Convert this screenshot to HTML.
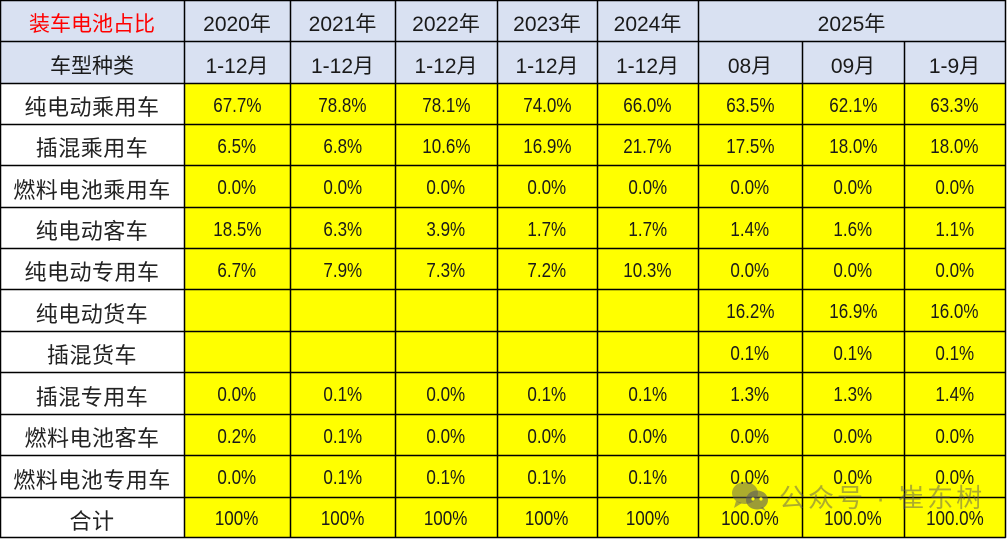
<!DOCTYPE html>
<html><head><meta charset="utf-8">
<style>
html,body{margin:0;padding:0;background:#fff;}
#wrap{position:relative;width:1007px;height:539px;overflow:hidden;background:#fff;}
.c{position:absolute;display:flex;align-items:center;justify-content:center;box-sizing:border-box;padding-top:5px;color:#1a1a1a;white-space:nowrap;}
.h{background:#d9e1f2;font-family:"Liberation Sans","Noto Sans CJK SC",sans-serif;font-size:21px;}
.lab{background:#fff;font-family:"Liberation Sans","Noto Sans CJK SC",sans-serif;font-size:22px;letter-spacing:0.5px;color:#222;}
.d{background:#ffff00;font-family:"Liberation Sans","Noto Sans CJK SC",sans-serif;font-size:20px;}
.d span{display:inline-block;transform:scaleX(0.85);}
.red{color:#ff0000;}
#wm{position:absolute;left:730px;top:480px;height:32px;display:flex;align-items:center;color:rgba(90,90,90,0.5);font-family:"Liberation Sans","Noto Sans CJK SC",sans-serif;font-size:26px;letter-spacing:3px;}
svg{position:absolute;left:0;top:0;}
</style></head><body>
<div id="wrap">
<div id="cells"></div>
<svg width="1007" height="539" id="grid"></svg>
<div id="wm">
<svg width="40" height="30" viewBox="0 0 40 30" style="position:relative;margin-right:9px;">
<ellipse cx="15" cy="12" rx="13" ry="11" fill="rgba(90,90,90,0.5)"/>
<path d="M6 20 L4 27 L12 22 Z" fill="rgba(90,90,90,0.5)"/>
<ellipse cx="27" cy="19" rx="11" ry="9.5" fill="rgba(90,90,90,0.6)"/>
<path d="M33 26 L36 30 L30 27 Z" fill="rgba(90,90,90,0.6)"/>
<circle cx="23" cy="18" r="1.6" fill="#ffff00"/>
<circle cx="31" cy="18" r="1.6" fill="#ffff00"/>
</svg>
<span>公众号 · 崔东树</span>
</div>
</div>
<script>
var xs=[0,184,290,395,497,597,698,802,904,1005];
var ys=[0,41,83,124,165,207,248,289,331,372,414,455,497,537];
var cells=document.getElementById('cells');
function cell(x0,x1,y0,y1,cls,txt,span){
  var d=document.createElement('div');
  d.className='c '+cls;
  d.style.left=x0+'px';d.style.top=y0+'px';d.style.width=(x1-x0)+'px';d.style.height=(y1-y0)+'px';
  if(span){var s=document.createElement('span');s.textContent=txt;d.appendChild(s);}else d.textContent=txt;
  cells.appendChild(d);
}
cell(xs[0],xs[1],ys[0],ys[1],'h red','装车电池占比');
var yrs=['2020年','2021年','2022年','2023年','2024年'];
for(var i=0;i<5;i++)cell(xs[i+1],xs[i+2],ys[0],ys[1],'h',yrs[i]);
cell(xs[6],xs[9],ys[0],ys[1],'h','2025年');
var h2=['车型种类','1-12月','1-12月','1-12月','1-12月','1-12月','08月','09月','1-9月'];
for(var i=0;i<9;i++)cell(xs[i],xs[i+1],ys[1],ys[2],'h',h2[i]);
var rows=[
['纯电动乘用车','67.7%','78.8%','78.1%','74.0%','66.0%','63.5%','62.1%','63.3%'],
['插混乘用车','6.5%','6.8%','10.6%','16.9%','21.7%','17.5%','18.0%','18.0%'],
['燃料电池乘用车','0.0%','0.0%','0.0%','0.0%','0.0%','0.0%','0.0%','0.0%'],
['纯电动客车','18.5%','6.3%','3.9%','1.7%','1.7%','1.4%','1.6%','1.1%'],
['纯电动专用车','6.7%','7.9%','7.3%','7.2%','10.3%','0.0%','0.0%','0.0%'],
['纯电动货车','','','','','','16.2%','16.9%','16.0%'],
['插混货车','','','','','','0.1%','0.1%','0.1%'],
['插混专用车','0.0%','0.1%','0.0%','0.1%','0.1%','1.3%','1.3%','1.4%'],
['燃料电池客车','0.2%','0.1%','0.0%','0.0%','0.0%','0.0%','0.0%','0.0%'],
['燃料电池专用车','0.0%','0.1%','0.1%','0.1%','0.1%','0.0%','0.0%','0.0%'],
['合计','100%','100%','100%','100%','100%','100.0%','100.0%','100.0%']
];
for(var r=0;r<rows.length;r++){
  var y0=ys[r+2],y1=ys[r+3];
  cell(xs[0],xs[1],y0,y1,'lab',rows[r][0]);
  for(var c=1;c<9;c++)cell(xs[c],xs[c+1],y0,y1,'d',rows[r][c],true);
}
var svg=document.getElementById('grid');var ns='http://www.w3.org/2000/svg';
function line(x1,y1,x2,y2){var l=document.createElementNS(ns,'line');l.setAttribute('x1',x1);l.setAttribute('y1',y1);l.setAttribute('x2',x2);l.setAttribute('y2',y2);l.setAttribute('stroke','#000');l.setAttribute('stroke-width','1.5');svg.appendChild(l);}
for(var i=0;i<ys.length;i++){var y=ys[i]+0.5;line(0,y,xs[9]+0.75,y);}
for(var i=0;i<xs.length;i++){var x=xs[i]+0.5;
  if(i==7||i==8){line(x,ys[1],x,ys[13]+0.75);}else line(x,0,x,ys[13]+0.75);}
</script>
</body></html>
